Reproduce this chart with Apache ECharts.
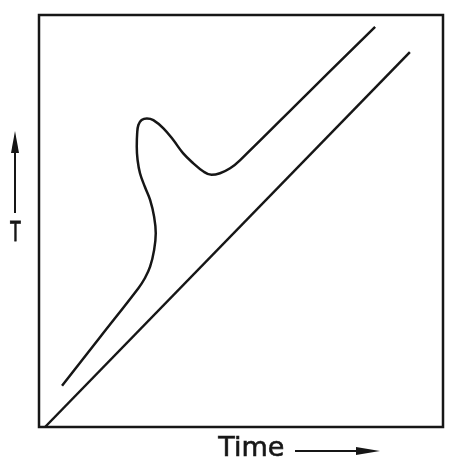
<!DOCTYPE html>
<html>
<head>
<meta charset="utf-8">
<script src="https://cdn.jsdelivr.net/npm/echarts@6/dist/echarts.min.js"></script>
<style>
  html, body { margin: 0; padding: 0; background: #fff; }
  #chart { width: 451px; height: 462px; }
</style>
</head>
<body>
<div id="chart"></div>
<script>
// 读图得到的数据（坐标轴 0-100，无刻度）
const curveX = [5.7, 15.1, 24.6, 26.2, 27.5, 28.5, 28.9, 28.5, 27.5, 26.2, 25.0, 24.4, 24.2, 24.3, 24.6, 25.4, 26.7, 28.3, 30.8, 33.2, 35.7, 38.2, 40.7, 42.7, 44.8, 47.3, 49.8, 66.5, 83.2]
const curveY = [10.0, 21.8, 33.7, 36.1, 38.9, 43.0, 47.0, 51.0, 55.1, 58.3, 61.6, 64.8, 68.0, 71.3, 73.3, 74.5, 74.9, 74.5, 72.5, 69.7, 66.4, 64.0, 62.0, 61.2, 61.6, 62.8, 64.8, 81.0, 97.1]
const lineX = [1.5, 91.8]
const lineY = [0, 91.0]
const xName = 'Time'
const yName = 'T'

const ink = '#161616'
const chart = echarts.init(document.getElementById('chart'))

const zip = (xs, ys) => xs.map((x, i) => [x, ys[i]])

const option = {
  animation: false,
  backgroundColor: '#fff',
  grid: {
    left: 39,
    right: 8,
    top: 15,
    bottom: 35,
    show: true,
    borderColor: ink,
    borderWidth: 2.5
  },
  xAxis: {
    type: 'value',
    min: 0,
    max: 100,
    axisLine: { show: false },
    axisTick: { show: false },
    axisLabel: { show: false },
    splitLine: { show: false }
  },
  yAxis: {
    type: 'value',
    min: 0,
    max: 100,
    axisLine: { show: false },
    axisTick: { show: false },
    axisLabel: { show: false },
    splitLine: { show: false }
  },
  series: [
    {
      type: 'line',
      data: zip(curveX, curveY),
      smooth: 0.4,
      symbol: 'none',
      lineStyle: { color: ink, width: 2.5 }
    },
    {
      type: 'line',
      data: zip(lineX, lineY),
      symbol: 'none',
      lineStyle: { color: ink, width: 2.5 }
    }
  ],
  graphic: [
    // 横轴名称和箭头
    {
      type: 'text',
      left: 218,
      top: 435,
      style: { text: xName, font: '27px "DejaVu Sans"', fill: ink, stroke: ink, lineWidth: 0.6 }
    },
    {
      type: 'line',
      shape: { x1: 295, y1: 451, x2: 362, y2: 451 },
      style: { stroke: ink, lineWidth: 2 }
    },
    {
      type: 'polygon',
      shape: { points: [[380, 451], [356, 447], [356, 455]] },
      style: { fill: ink }
    },
    // 纵轴名称和箭头
    {
      type: 'text',
      x: 15.5,
      y: 234,
      scaleX: 0.65,
      style: {
        text: yName, font: '26px "DejaVu Sans"', fill: ink, stroke: ink, lineWidth: 0.8,
        align: 'center', textAlign: 'center', verticalAlign: 'middle', textVerticalAlign: 'middle'
      }
    },
    {
      type: 'line',
      shape: { x1: 15, y1: 213, x2: 15, y2: 150 },
      style: { stroke: ink, lineWidth: 2 }
    },
    {
      type: 'polygon',
      shape: { points: [[15, 131], [11, 153], [19, 153]] },
      style: { fill: ink }
    }
  ]
}

chart.setOption(option)
</script>
</body>
</html>
